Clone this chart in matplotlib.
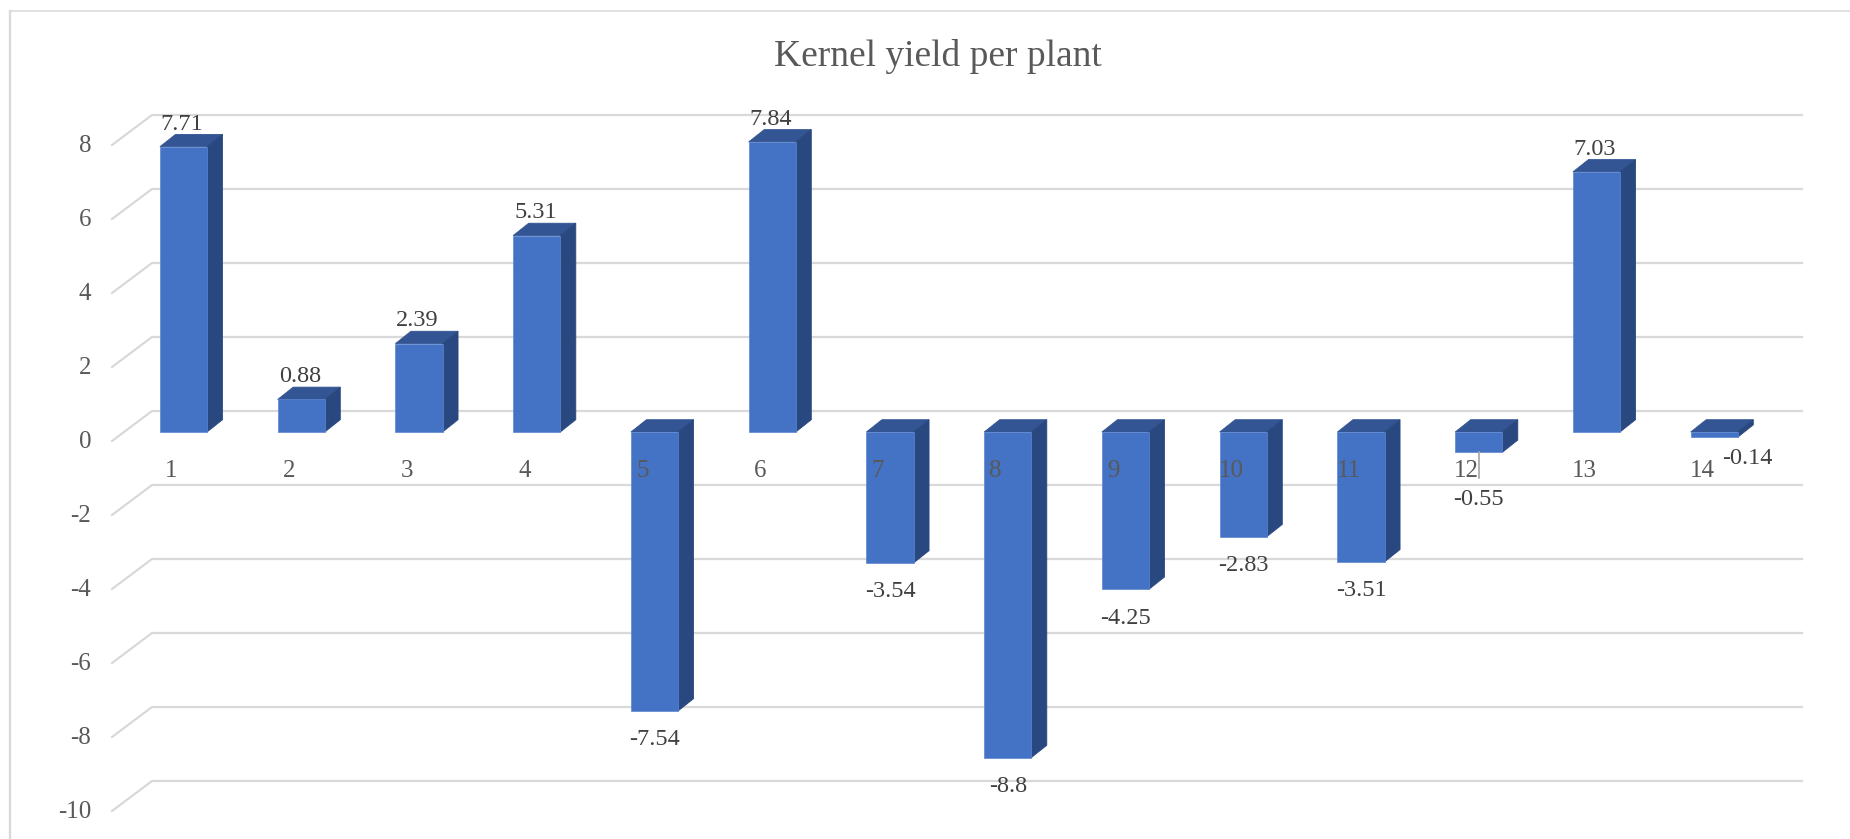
import matplotlib
matplotlib.use("Agg")
import matplotlib.pyplot as plt
from matplotlib.lines import Line2D
from matplotlib.patches import Polygon

# Chart content
title = "Kernel yield per plant"
plants = list(range(1, 14 + 1))
values = [7.71, 0.88, 2.39, 5.31, -7.54, 7.84, -3.54, -8.8, -4.25, -2.83, -3.51, -0.55, 7.03, -0.14]
y_ticks = [8, 6, 4, 2, 0, -2, -4, -6, -8, -10]

# Pixel calibration of the front plane of the bars
W, H = 1850, 839
PX_PER_CAT = 117.75
PX_PER_UNIT = 37.0
CAT1_PX = 183.5
ZERO_PX = 432.0

# Pseudo-3D depth, in data units
BAR_W = 0.40
BAR_DX = 15.5 / PX_PER_CAT
BAR_DY = 12.3 / PX_PER_UNIT
WALL_UP = 21.0 / PX_PER_UNIT
FLOOR_DOWN = 9.0 / PX_PER_UNIT
GRID_X0 = 1 + (112 - CAT1_PX) / PX_PER_CAT
GRID_X1 = 1 + (152 - CAT1_PX) / PX_PER_CAT
GRID_X2 = 1 + (1802 - CAT1_PX) / PX_PER_CAT

FRONT = "#4472C4"
SIDE = "#2A4880"
TOP = "#335593"
GRID = "#D9D9D9"
AXIS_TEXT = "#595959"
LABEL_TEXT = "#404040"

plt.rcParams["font.family"] = ["Liberation Serif", "DejaVu Serif"]

fig = plt.figure(figsize=(W / 100, H / 100), dpi=100, facecolor="white")
ax = fig.add_axes([0, 0, 1, 1])
ax.set_xlim(1 - CAT1_PX / PX_PER_CAT, 1 + (W - CAT1_PX) / PX_PER_CAT)
ax.set_ylim((ZERO_PX - H) / PX_PER_UNIT, ZERO_PX / PX_PER_UNIT)
ax.axis("off")

# Chart-area frame: only the top and left edges fall inside the figure
fig.add_artist(Line2D([0.0054, 0.0054], [0, 1 - 10.5 / H], color=GRID, linewidth=1.7))
fig.add_artist(Line2D([0.0054, 1], [1 - 10.5 / H, 1 - 10.5 / H], color=GRID, linewidth=1.1))

# Gridlines: a slanted floor segment followed by the run along the back wall
for t in y_ticks:
    ax.plot([GRID_X0, GRID_X1, GRID_X2],
            [t - FLOOR_DOWN, t + WALL_UP, t + WALL_UP],
            color=GRID, linewidth=1.6, solid_joinstyle="miter", zorder=2)
    ax.annotate(str(t), (GRID_X0, t - FLOOR_DOWN), xytext=(-15, -1),
                textcoords="offset points", ha="right", va="center",
                fontsize=18, color=AXIS_TEXT, zorder=6)

# Bars: top face, side face, then front face
for x, v in zip(plants, values):
    l, r = x - BAR_W / 2, x + BAR_W / 2
    ax.add_patch(Polygon([(l, max(v, 0)), (r, max(v, 0)),
                          (r + BAR_DX, max(v, 0) + BAR_DY), (l + BAR_DX, max(v, 0) + BAR_DY)],
                         facecolor=TOP, edgecolor=TOP, linewidth=0.6, zorder=3))
    ax.add_patch(Polygon([(r, min(v, 0)), (r + BAR_DX, min(v, 0) + BAR_DY),
                          (r + BAR_DX, max(v, 0) + BAR_DY), (r, max(v, 0))],
                         facecolor=SIDE, edgecolor=SIDE, linewidth=0.6, zorder=3))
    ax.bar(x, v, width=BAR_W, color=FRONT, edgecolor="#5B86D0", linewidth=0.5, zorder=4)

# Category labels sit at a fixed height below the zero line
for x in plants:
    ax.annotate(str(x), (x - BAR_W / 2, 0), xytext=(8.3, -28),
                textcoords="offset points", ha="center", va="center",
                fontsize=18, color=AXIS_TEXT, zorder=6)

# Data labels; plants 12 and 14 have hand-placed labels
label_shift = {12: (0, -34), 14: (24, -15)}
for x, v in zip(plants, values):
    default = (-1, 16.3) if v > 0 else (0, -20.7)
    ax.annotate(str(v), (x, v), xytext=label_shift.get(x, default),
                textcoords="offset points", ha="center", va="center",
                fontsize=17.5, color=LABEL_TEXT, zorder=7)

# Leader line from bar 12 to its displaced label
v12 = values[plants.index(12)]
ax.plot([12, 12], [v12, v12 - 26 / PX_PER_UNIT], color="#A6A6A6", linewidth=1.2, zorder=5)

ax.text(938, H - 56, title, transform=None, ha="center", va="center",
        fontsize=27, color=AXIS_TEXT, zorder=7)

fig.savefig("out.png", dpi=100, facecolor="white")
